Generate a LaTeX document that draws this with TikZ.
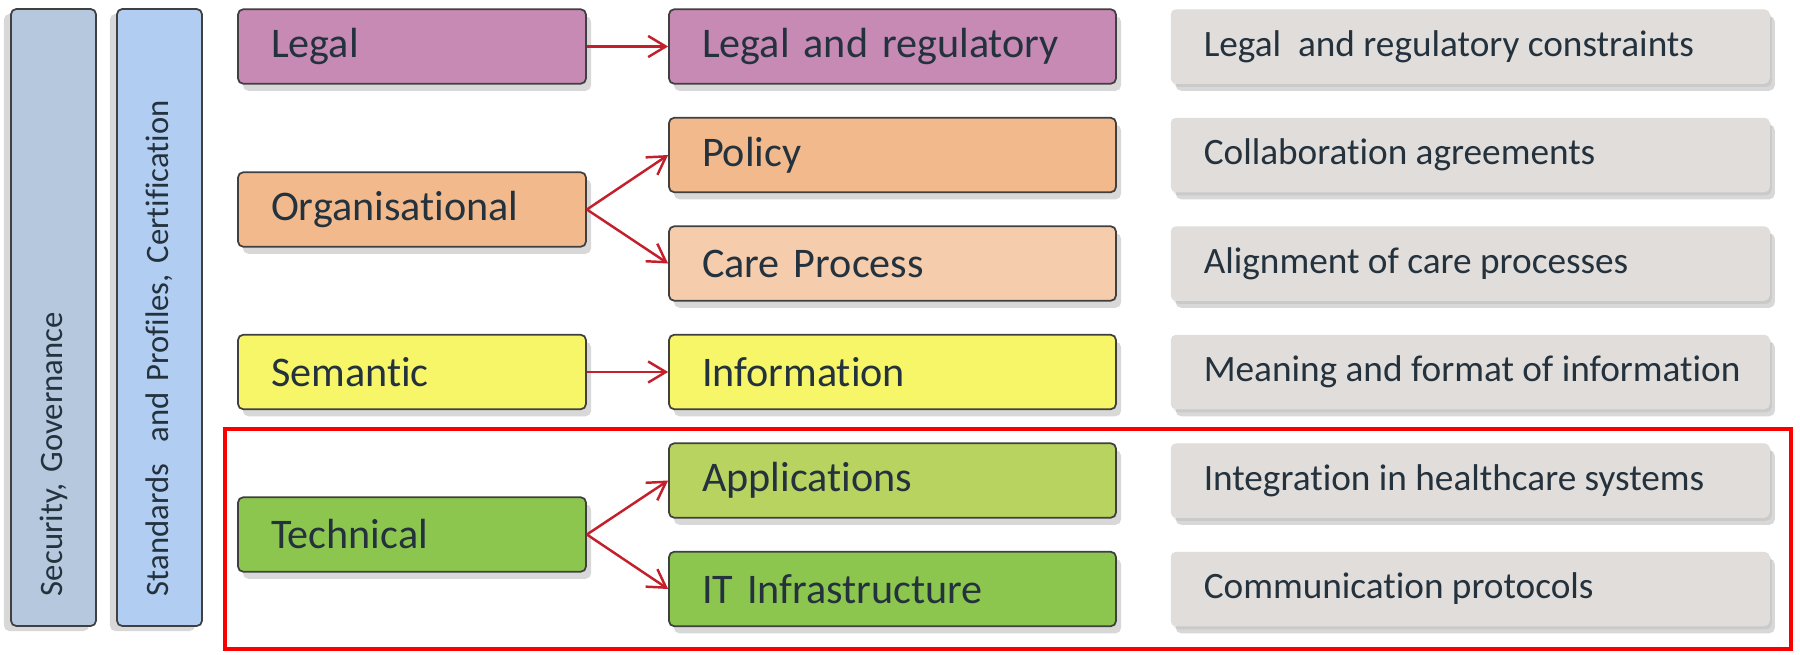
\documentclass[tikz,border=0pt]{standalone}
\usepackage{fontspec}
\setmainfont{Carlito}[Ligatures=NoCommon]
\usetikzlibrary{positioning,shadows,arrows.meta}

\definecolor{txt}{RGB}{36,50,62}
\definecolor{legalc}{RGB}{199,138,180}
\definecolor{orgc}{RGB}{242,186,140}
\definecolor{carec}{RGB}{245,204,172}
\definecolor{semc}{RGB}{247,246,104}
\definecolor{techc}{RGB}{141,198,79}
\definecolor{appc}{RGB}{185,211,96}
\definecolor{descc}{RGB}{224,221,218}
\definecolor{secc}{RGB}{182,200,222}
\definecolor{stdc}{RGB}{178,205,242}
\definecolor{arrc}{RGB}{196,32,44}
\definecolor{framec}{RGB}{250,0,0}

\tikzset{
  box/.style={draw=black!75, line width=0.5pt, rounded corners=1.5pt,
    minimum height=0.745cm, inner xsep=0.33cm, inner ysep=0pt, align=left, text=txt,
    drop shadow={shadow xshift=0.05cm, shadow yshift=-0.07cm, opacity=0.3}},
  levelbox/.style={box, text width=2.82cm, font=\fontsize{12}{14}\selectfont},
  aspectbox/.style={box, text width=3.81cm, font=\fontsize{12}{14}\selectfont},
  descbox/.style={box, draw=none, fill=descc, font=\fontsize{10.6}{13}\selectfont,
    drop shadow={shadow xshift=0.02cm, shadow yshift=-0.03cm, opacity=0.15}},
  bar/.style={draw=black!75, line width=0.5pt, rounded corners=1.5pt, rotate=90,
    minimum width=6.17cm, minimum height=0.85cm, text width=5.57cm,
    inner xsep=0.3cm, inner ysep=0pt, align=left, text=txt,
    font=\fontsize{9.3}{12}\selectfont,
    drop shadow={shadow xshift=-0.07cm, shadow yshift=-0.05cm, opacity=0.3}},
  link/.style={draw=arrc, line width=0.7pt, -{Straight Barb[length=5pt,width=6pt]}},
}

\begin{document}
\begin{tikzpicture}
  \path[fill=white] (0,0) rectangle (18,6.54);
  \useasboundingbox (0,0) rectangle (18,6.54);

  % Side bars
  \node[bar, fill=secc] (sec) at (0.535,3.365) {Security, Governance};
  \node[bar, fill=stdc] (std) at (1.595,3.365) {Standards~ and Profiles, Certification};

  % Interoperability levels
  \node[levelbox, fill=legalc] (legal) at (4.12,6.075) {Legal};
  \node[levelbox, fill=orgc] (org) at (4.12,4.445) {Organisational};
  \node[levelbox, fill=semc] (sem) at (4.12,2.82) {Semantic};
  \node[levelbox, fill=techc] (tech) at (4.12,1.195) {Technical};

  % Aspects
  \node[aspectbox, fill=legalc] (legreg) at (8.925,6.075) {Legal and regulatory};
  \node[aspectbox, fill=orgc] (policy) at (8.925,4.99) {Policy};
  \node[aspectbox, fill=carec] (care) at (8.925,3.905) {Care Process};
  \node[aspectbox, fill=semc] (info) at (8.925,2.82) {Information};
  \node[aspectbox, fill=appc] (apps) at (8.925,1.735) {Applications};
  \node[aspectbox, fill=techc] (infra) at (8.925,0.65) {IT Infrastructure};

  % Descriptions
  \foreach \a/\t in {legreg/Legal~ and regulatory constraints,
                     policy/Collaboration agreements,
                     care/Alignment of care processes,
                     info/Meaning and format of information,
                     apps/Integration in healthcare systems,
                     infra/Communication protocols}
    \node[descbox, right=0.53cm of \a] (d\a) {\makebox[5.33cm][l]{\t}};

  % Links
  \draw[link] (legal) -- (legreg);
  \foreach \a in {policy,care} \draw[link] (org.east) -- (\a.west);
  \draw[link] (sem) -- (info);
  \foreach \a in {apps,infra} \draw[link] (tech.east) -- (\a.west);

  % Technical scope
  \draw[framec, line width=0.045cm] (2.25,2.25) rectangle (17.91,0.05);
\end{tikzpicture}
\end{document}
